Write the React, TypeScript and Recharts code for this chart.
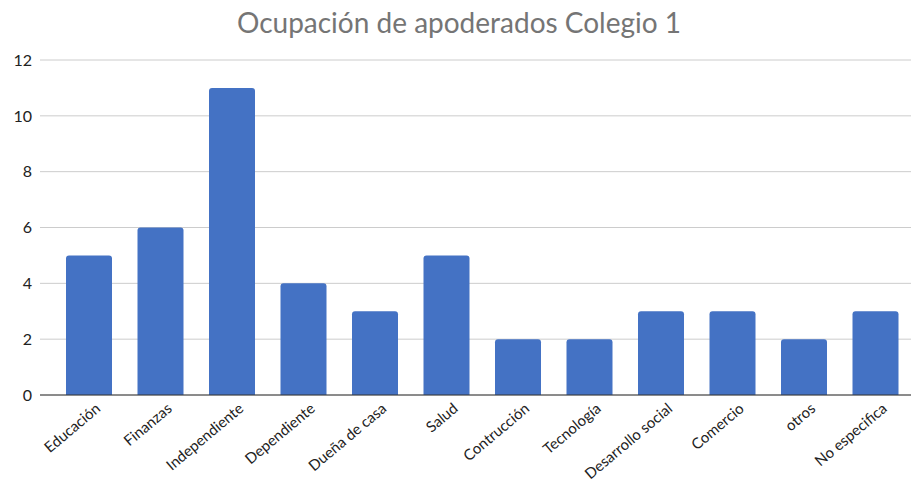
import { BarChart, Bar, XAxis, YAxis, CartesianGrid } from 'recharts';

const categories = [
  'Educación', 'Finanzas', 'Independiente', 'Dependiente', 'Dueña de casa', 'Salud',
  'Contrucción', 'Tecnología', 'Desarrollo social', 'Comercio', 'otros', 'No especifica',
];
const counts = [5, 6, 11, 4, 3, 5, 2, 2, 3, 3, 2, 3];
const yTicks = [0, 2, 4, 6, 8, 10, 12];

const data = categories.map((name, i) => ({ name, value: counts[i] }));

const FONT = 'Lato, "Open Sans", sans-serif';

function RotatedTick(props: any) {
  const { x, y, payload } = props;
  return (
    <g transform={`translate(${x + 5},${y - 2})`}>
      <text
        x={0}
        y={0}
        dy={12}
        textAnchor="end"
        transform="rotate(-40)"
        fontSize={15}
        fill="#222"
        fontFamily={FONT}
      >
        {payload.value}
      </text>
    </g>
  );
}

export default function App() {
  return (
    <div style={{ position: 'absolute', left: 0, top: 0, width: 911, height: 483, background: '#fff' }}>
      <div
        style={{
          position: 'absolute',
          top: 5,
          left: 0,
          width: 918,
          textAlign: 'center',
          fontFamily: FONT,
          fontSize: 28,
          color: '#757575',
        }}
      >
        Ocupación de apoderados Colegio 1
      </div>
      <BarChart width={911} height={483} data={data} margin={{ top: 60, right: 0, bottom: 0, left: 0 }}>
        <CartesianGrid vertical={false} stroke="#ccc" />
        <XAxis
          dataKey="name"
          interval={0}
          tickLine={false}
          axisLine={{ stroke: '#333' }}
          padding={{ left: 13, right: 0 }}
          tick={<RotatedTick />}
          height={88}
        />
        <YAxis
          width={40}
          domain={[0, 12]}
          ticks={yTicks}
          axisLine={false}
          tickLine={false}
          tick={{ fontSize: 16, fill: '#222', fontFamily: FONT }}
        />
        <Bar dataKey="value" fill="#4472C4" barSize={46} radius={[3, 3, 0, 0]} isAnimationActive={false} />
      </BarChart>
    </div>
  );
}
